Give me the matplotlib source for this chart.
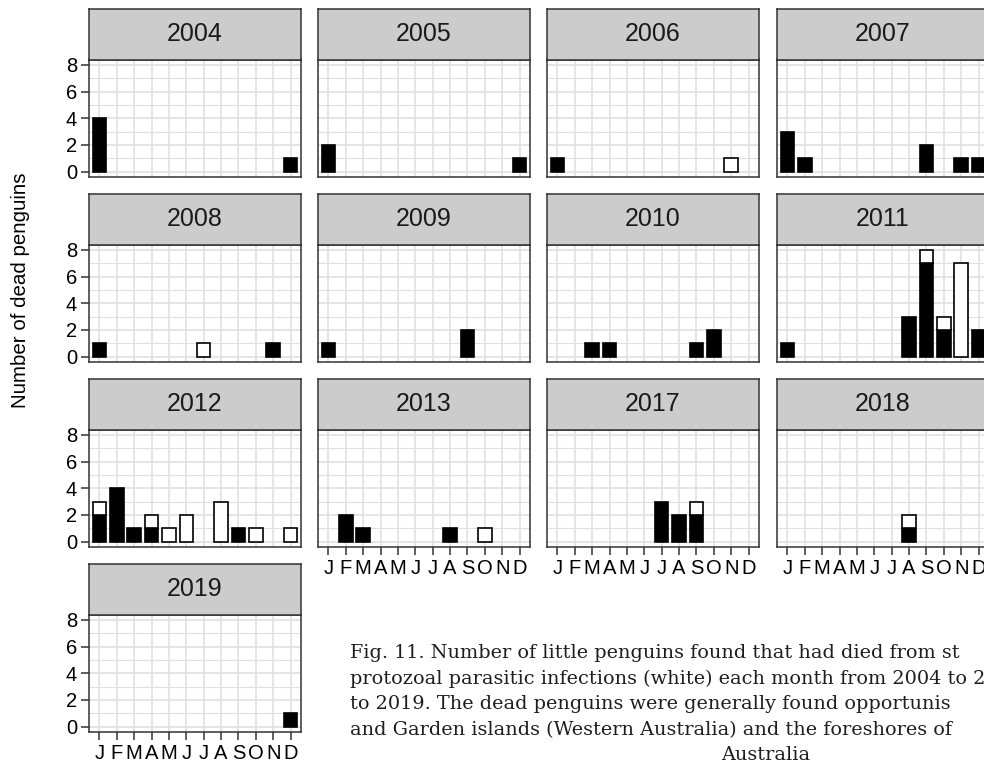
import matplotlib
matplotlib.use("Agg")
import matplotlib.pyplot as plt
import numpy as np

# Monthly counts of dead little penguins, by cause of death
years = [2004, 2005, 2006, 2007, 2008, 2009, 2010, 2011, 2012, 2013, 2017, 2018, 2019]
month_labels = ["J", "F", "M", "A", "M", "J", "J", "A", "S", "O", "N", "D"]

starvation = {
    2004: [4, 0, 0, 0, 0, 0, 0, 0, 0, 0, 0, 1],
    2005: [2, 0, 0, 0, 0, 0, 0, 0, 0, 0, 0, 1],
    2006: [1, 0, 0, 0, 0, 0, 0, 0, 0, 0, 0, 0],
    2007: [3, 1, 0, 0, 0, 0, 0, 0, 2, 0, 1, 1],
    2008: [1, 0, 0, 0, 0, 0, 0, 0, 0, 0, 1, 0],
    2009: [1, 0, 0, 0, 0, 0, 0, 0, 2, 0, 0, 0],
    2010: [0, 0, 1, 1, 0, 0, 0, 0, 1, 2, 0, 0],
    2011: [1, 0, 0, 0, 0, 0, 0, 3, 7, 2, 0, 2],
    2012: [2, 4, 1, 1, 0, 0, 0, 0, 1, 0, 0, 0],
    2013: [0, 2, 1, 0, 0, 0, 0, 1, 0, 0, 0, 0],
    2017: [0, 0, 0, 0, 0, 0, 3, 2, 2, 0, 0, 0],
    2018: [0, 0, 0, 0, 0, 0, 0, 1, 0, 0, 0, 0],
    2019: [0, 0, 0, 0, 0, 0, 0, 0, 0, 0, 0, 1],
}
protozoa = {
    2004: [0, 0, 0, 0, 0, 0, 0, 0, 0, 0, 0, 0],
    2005: [0, 0, 0, 0, 0, 0, 0, 0, 0, 0, 0, 0],
    2006: [0, 0, 0, 0, 0, 0, 0, 0, 0, 0, 1, 0],
    2007: [0, 0, 0, 0, 0, 0, 0, 0, 0, 0, 0, 0],
    2008: [0, 0, 0, 0, 0, 0, 1, 0, 0, 0, 0, 0],
    2009: [0, 0, 0, 0, 0, 0, 0, 0, 0, 0, 0, 0],
    2010: [0, 0, 0, 0, 0, 0, 0, 0, 0, 0, 0, 0],
    2011: [0, 0, 0, 0, 0, 0, 0, 0, 1, 1, 7, 0],
    2012: [1, 0, 0, 1, 1, 2, 0, 3, 0, 1, 0, 1],
    2013: [0, 0, 0, 0, 0, 0, 0, 0, 0, 1, 0, 0],
    2017: [0, 0, 0, 0, 0, 0, 0, 0, 1, 0, 0, 0],
    2018: [0, 0, 0, 0, 0, 0, 0, 1, 0, 0, 0, 0],
    2019: [0, 0, 0, 0, 0, 0, 0, 0, 0, 0, 0, 0],
}

caption_lines = [
    "Fig. 11. Number of little penguins found that had died from st",
    "protozoal parasitic infections (white) each month from 2004 to 2",
    "to 2019. The dead penguins were generally found opportunis",
    "and Garden islands (Western Australia) and the foreshores of",
]
caption_last = "Australia"

plt.rcParams["font.family"] = ["Liberation Sans", "DejaVu Sans"]

W, H = 984, 768
fig = plt.figure(figsize=(W / 100, H / 100), dpi=100)

col_left = [89, 318, 547, 777]
panel_w = 212
row_pitch = 185
strip_top0, panel_top0, panel_bot0 = 9, 59.5, 177

border_col = "#333333"
grid_col = "#e0e0e0"
ncols = 4
months = np.arange(1, 13)

for i, yr in enumerate(years):
    r, c = divmod(i, ncols)
    x0 = col_left[c]
    st = strip_top0 + r * row_pitch
    pt = panel_top0 + r * row_pitch
    pb = panel_bot0 + r * row_pitch

    ax = fig.add_axes([x0 / W, (H - pb) / H, panel_w / W, (pb - pt) / H])
    sax = fig.add_axes([x0 / W, (H - pt) / H, panel_w / W, (pt - st) / H])

    s = np.array(starvation[yr])
    p = np.array(protozoa[yr])
    smask = s > 0
    ax.bar(months[smask], s[smask], width=0.78, color="black",
           edgecolor="black", linewidth=1.2, zorder=3)
    pmask = p > 0
    ax.bar(months[pmask], p[pmask], bottom=s[pmask], width=0.78, color="white",
           edgecolor="black", linewidth=1.2, zorder=3)

    ax.set_xlim(0.4, 12.6)
    ax.set_ylim(-0.4, 8.4)
    ax.set_xticks(months)
    ax.set_yticks([0, 2, 4, 6, 8])
    ax.set_yticks([1, 3, 5, 7], minor=True)
    ax.grid(True, which="major", color=grid_col, linewidth=1.2, zorder=0)
    ax.grid(True, which="minor", axis="y", color=grid_col, linewidth=0.8, zorder=0)
    ax.set_axisbelow(True)
    ax.tick_params(axis="both", which="minor", length=0)
    ax.tick_params(axis="both", which="major", length=5.5, width=1.1,
                   color=border_col, labelsize=14.5, labelcolor="black", pad=3)
    for sp in ax.spines.values():
        sp.set_color(border_col)
        sp.set_linewidth(1.1)

    # x labels only under the lowest panel of each column
    bottom_panel = (i + ncols >= len(years))
    if bottom_panel:
        ax.set_xticklabels(month_labels)
    else:
        ax.tick_params(axis="x", length=0, labelbottom=False)
    if c == 0:
        ax.set_yticklabels(["0", "2", "4", "6", "8"])
    else:
        ax.tick_params(axis="y", length=0, labelleft=False)

    sax.set_facecolor("#cccccc")
    sax.set_xticks([])
    sax.set_yticks([])
    for sp in sax.spines.values():
        sp.set_color(border_col)
        sp.set_linewidth(1.1)
    sax.text(0.5, 0.5, str(yr), ha="center", va="center", fontsize=18,
             color="#1a1a1a", transform=sax.transAxes)

fig.text(21 / W, 1 - 290 / H, "Number of dead penguins", rotation=90,
         ha="center", va="center", fontsize=14.8, color="black")

# Figure caption
cap_x = 350 / W
cap_y = [653, 678.5, 704, 730]
for yy, line in zip(cap_y, caption_lines):
    fig.text(cap_x, 1 - yy / H, line, ha="left", va="center",
             family="DejaVu Serif", fontsize=13.9, color="#1e1e1e")
fig.text(766 / W, 1 - 755 / H, caption_last, ha="center", va="center",
         family="DejaVu Serif", fontsize=13.9, color="#1e1e1e")

fig.savefig("out.png", dpi=100)
